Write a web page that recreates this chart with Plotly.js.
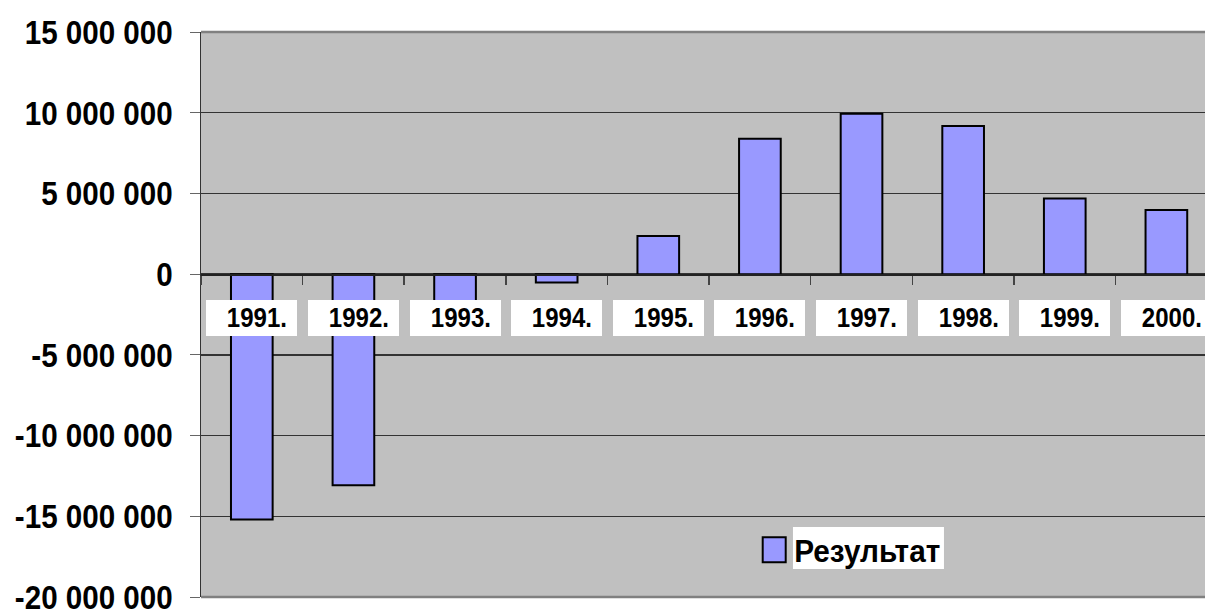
<!DOCTYPE html>
<html>
<head>
<meta charset="utf-8">
<script src="https://cdn.plot.ly/plotly-3.0.1.min.js"></script>
<style>
  html, body { margin: 0; padding: 0; background: #ffffff; }
  #chart { width: 1205px; height: 610px; }
</style>
</head>
<body>
<div id="chart"></div>
<script>
// ---- data ----
const years = ['1991.', '1992.', '1993.', '1994.', '1995.', '1996.', '1997.', '1998.', '1999.', '2000.'];
const resultValues = [-15200000, -13070000, -1900000, -520000, 2370000, 8380000, 9930000, 9180000, 4680000, 3980000];
const seriesName = 'Результат';
const yTickValues = [-20000000, -15000000, -10000000, -5000000, 0, 5000000, 10000000, 15000000];
const yTickLabels = ['-20 000 000', '-15 000 000', '-10 000 000', '-5 000 000', '0', '5 000 000', '10 000 000', '15 000 000'];

const FONT = "'Liberation Sans', Arial, sans-serif";
const yMin = -20000000, yMax = 15000000;
const labelLevel = -2706000;

const trace = {
  type: 'bar',
  x: years,
  y: resultValues,
  name: seriesName,
  width: 0.41,
  marker: { color: '#9999FF', line: { color: '#000000', width: 2 } }
};

// category index is used as position (labels like "1991." would otherwise be read as numbers)
const annotations = years.map(function (yr, i) {
  return {
    x: i, y: labelLevel, xref: 'x', yref: 'y',
    text: yr, showarrow: false,
    bgcolor: '#ffffff', borderpad: 0, borderwidth: 0,
    width: 91, height: 36, align: 'right',
    font: { family: FONT, size: 27, color: '#000000', weight: 'bold' }
  };
});

const layout = {
  width: 1205, height: 610,
  paper_bgcolor: '#ffffff',
  plot_bgcolor: '#C0C0C0',
  margin: { l: 201, r: 0, t: 32, b: 13 },
  showlegend: true,
  legend: {
    x: 0.551, y: 0.083, xanchor: 'left', yanchor: 'middle',
    bgcolor: 'rgba(0,0,0,0)', borderwidth: 0,
    font: { family: FONT, size: 31, color: '#000000', weight: 'bold' }
  },
  xaxis: {
    type: 'category',
    range: [-0.5, 9.38],
    anchor: 'free', position: 20 / 35,
    showline: true, linecolor: '#222222', linewidth: 1.5,
    ticks: 'outside', tickson: 'boundaries', ticklen: 9, tickcolor: '#444444', tickwidth: 1.5,
    showticklabels: false, showgrid: false, zeroline: false
  },
  yaxis: {
    range: [yMin, yMax],
    tickmode: 'array', tickvals: yTickValues, ticktext: yTickLabels,
    showgrid: true, gridcolor: '#333333', gridwidth: 1.5,
    zeroline: false,
    showline: true, linecolor: '#333333', linewidth: 1.5,
    ticks: 'outside', ticklen: 10, tickcolor: '#666666', tickwidth: 1,
    ticklabelstandoff: 10, ticklabeloverflow: 'allow',
    tickfont: { family: FONT, size: 34, color: '#000000', weight: 'bold' }
  },
  shapes: [
    { type: 'line', xref: 'paper', yref: 'paper', x0: 0, x1: 1, y0: 1, y1: 1,
      line: { color: '#808080', width: 2.5 }, layer: 'above' },
    { type: 'line', xref: 'paper', yref: 'paper', x0: 0, x1: 1, y0: 0, y1: 0,
      line: { color: '#808080', width: 2.5 }, layer: 'above' },
    { type: 'rect', xref: 'paper', yref: 'paper', x0: 0.5896, x1: 0.740, y0: 0.0496, y1: 0.1239,
      fillcolor: '#ffffff', line: { width: 0 }, layer: 'above' }
  ],
  annotations: annotations
};

// narrow the bold text horizontally (the reference uses a condensed bold face)
function squeeze(el, s, pivot, dx) {
  const bb = el.getBBox();
  const px = pivot === 'right' ? bb.x + bb.width : pivot === 'left' ? bb.x : bb.x + bb.width / 2;
  const t = el.getAttribute('transform') || '';
  el.setAttribute('transform', t + ' translate(' + (px + (dx || 0)) + ',0) scale(' + s + ',1) translate(' + (-px) + ',0)');
}

Plotly.newPlot('chart', [trace], layout, { displayModeBar: false, staticPlot: true }).then(function () {
  document.querySelectorAll('.legend .legendpoints path').forEach(function (p) {
    p.setAttribute('d', 'M11.5,12.5H-11.5V-12.5H11.5Z');
  });
  document.querySelectorAll('.ytick text').forEach(function (el) { squeeze(el, 0.87, 'right', 0); });
  document.querySelectorAll('.legend text.legendtext').forEach(function (el) { squeeze(el, 0.96, 'left', 0); });
  document.querySelectorAll('.annotation').forEach(function (a) {
    const rect = a.querySelector('rect.bg');
    const txt = a.querySelector('text');
    if (!rect || !txt) return;
    const rr = rect.getBoundingClientRect();
    const tr = txt.getBoundingClientRect();
    const dx = (rr.right - 10) - tr.right;
    squeeze(txt, 0.89, 'right', dx);
  });
});
</script>
</body>
</html>
